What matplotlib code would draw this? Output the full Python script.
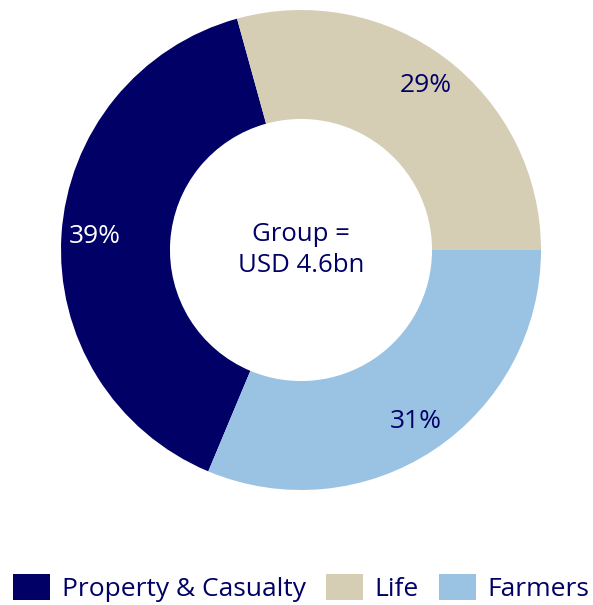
import matplotlib
matplotlib.use("Agg")
import matplotlib.pyplot as plt
from matplotlib.patches import Patch
import numpy as np

categories = ["Property & Casualty", "Life", "Farmers"]
values = [39, 29, 31]
labels = ["39%", "29%", "31%"]
colors = ["#000066", "#D5CDB4", "#99C2E3"]
label_colors = ["white", "#000066", "#000066"]
center_text = "Group =\nUSD 4.6bn"

navy = "#000066"
plt.rcParams['font.family'] = ['Open Sans', 'DejaVu Sans']

fig = plt.figure(figsize=(5.93, 6.05), dpi=100)
ax = fig.add_axes([61/593, 1 - 490/605, 480/593, 480/605])

start = -360 * values[2] / sum(values)
wedges, _ = ax.pie(values, colors=colors, startangle=start, counterclock=False,
                   radius=1.0, wedgeprops=dict(width=0.454, linewidth=0))
for w, lab, lc in zip(wedges, labels, label_colors):
    ang = np.deg2rad((w.theta1 + w.theta2) / 2)
    r = 0.86
    ax.text(r * np.cos(ang), r * np.sin(ang), lab, ha="center", va="center",
            fontsize=19, color=lc)
ax.text(0, 0, center_text, ha="center", va="center", fontsize=18.5, color=navy,
        linespacing=1.3)
ax.set_xlim(-1, 1)
ax.set_ylim(-1, 1)
ax.set_aspect("equal")
ax.axis("off")

handles = [Patch(facecolor=c, edgecolor="none") for c in colors]
leg = fig.legend(handles, categories, loc="lower center", ncol=3,
                 bbox_to_anchor=(0.508, -0.012), frameon=False, fontsize=19,
                 handlelength=1.4, handleheight=1.15, handletextpad=0.45,
                 columnspacing=0.75, borderaxespad=0.0)
for t in leg.get_texts():
    t.set_color(navy)

fig.savefig("out.png", dpi=100)
